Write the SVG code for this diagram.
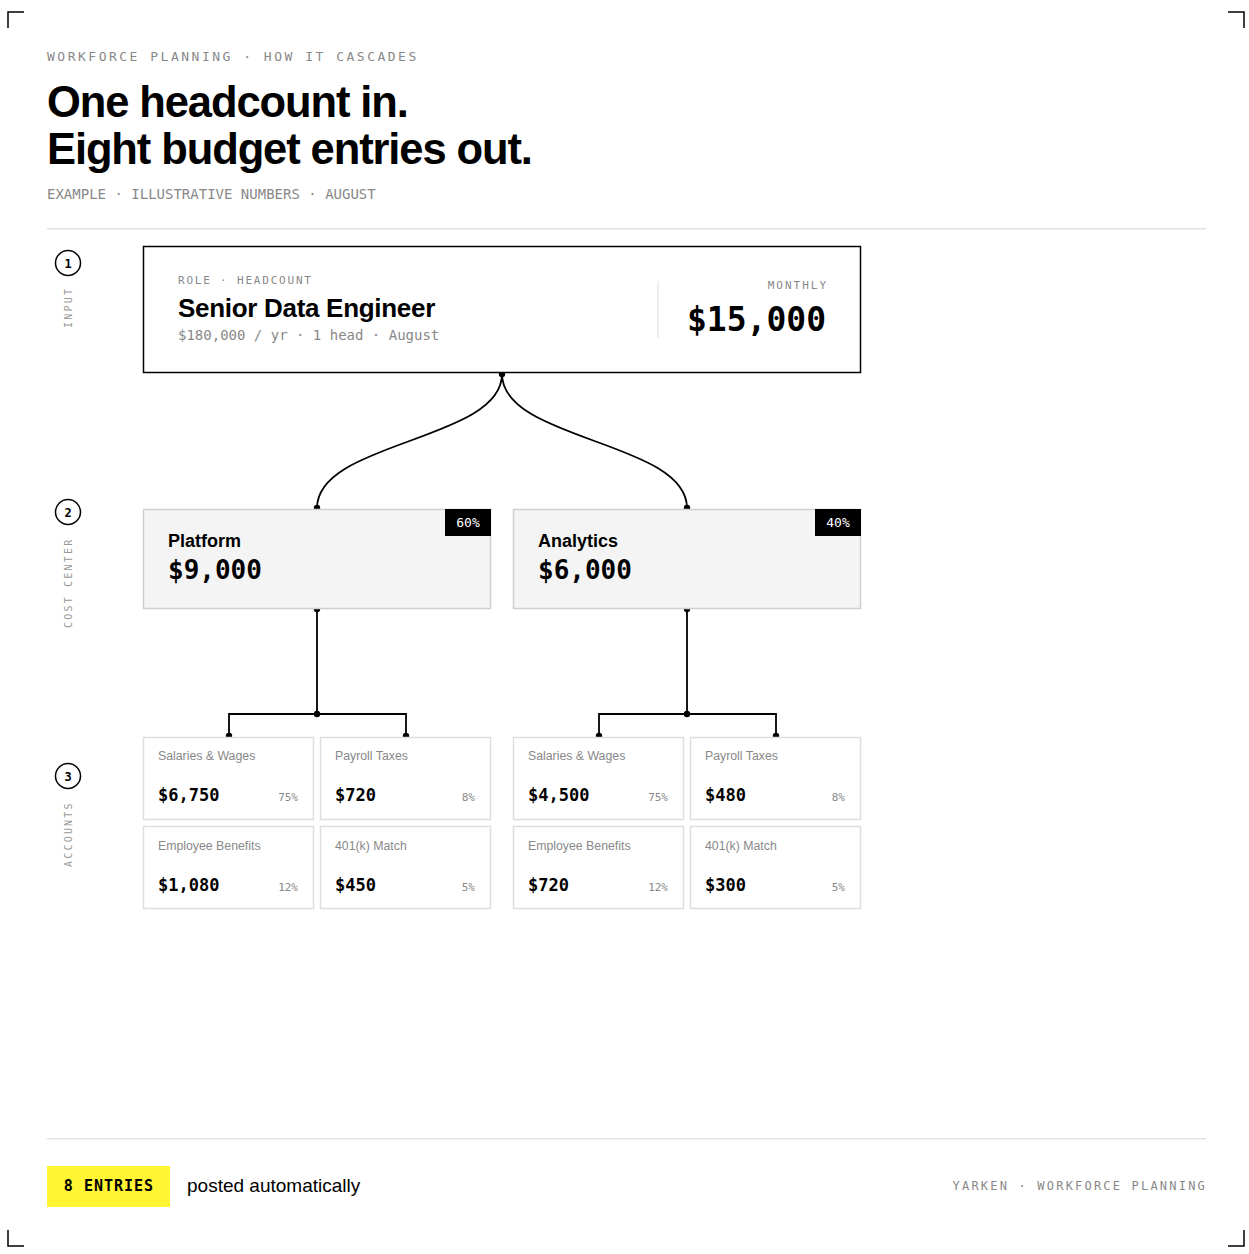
<svg xmlns="http://www.w3.org/2000/svg" width="1249" height="1254" viewBox="0 0 1249 1254">
<style>
.mono{font-family:"DejaVu Sans Mono","Liberation Mono",monospace}
.sans{font-family:"Liberation Sans",Arial,sans-serif}
.eyebrow{font-size:13px;letter-spacing:2.5px;fill:#888}
.title{font-size:43.5px;font-weight:bold;letter-spacing:-1.1px;fill:#000}
.sub{font-size:14px;fill:#888}
.step{fill:#fff;stroke:#000;stroke-width:1.5}
.stepnum{font-size:12px;font-weight:bold;fill:#000;text-anchor:middle}
.steplbl{font-size:10px;letter-spacing:2.2px;fill:#999}
.cc{fill:#f4f4f4;stroke:#cfcfcf;stroke-width:1.5}
.ccname{font-size:18px;font-weight:bold;fill:#000}
.ccamt{font-size:26px;font-weight:bold;fill:#000}
.badge{fill:#000}
.badgetxt{font-size:13px;fill:#fff;text-anchor:middle}
.acct{fill:#fff;stroke:#dedede;stroke-width:1.5}
.albl{font-size:12.3px;fill:#888}
.aamt{font-size:17px;font-weight:bold;fill:#000}
.apct{font-size:11px;fill:#888;text-anchor:end}
.conn{fill:none;stroke:#000;stroke-width:1.8}
.dot{fill:#000}
.corner{fill:none;stroke:#000;stroke-width:1.5}
</style>

<g id="corners">
<path class="corner" d="M8,28 V12 H24"/>
<path class="corner" d="M1228,12 H1244 V28"/>
<path class="corner" d="M8,1230 V1246 H24"/>
<path class="corner" d="M1228,1246 H1244 V1230"/>
</g>

<g id="header">
<text class="mono eyebrow" x="47" y="61">WORKFORCE PLANNING · HOW IT CASCADES</text>
<text class="sans title" x="47" y="117">One headcount in.</text>
<text class="sans title" x="47" y="164">Eight budget entries out.</text>
<text class="mono sub" x="47" y="199">EXAMPLE · ILLUSTRATIVE NUMBERS · AUGUST</text>
<rect x="47" y="228" width="1159" height="1.5" fill="#e2e2e2"/>
</g>

<g id="steps">
<g id="step1">
<circle class="step" cx="68" cy="263" r="12.5"/>
<text class="mono stepnum" x="68" y="267.5">1</text>
<text class="mono steplbl" transform="translate(72,328) rotate(-90)">INPUT</text>
</g>
<g id="step2">
<circle class="step" cx="68" cy="512" r="12.5"/>
<text class="mono stepnum" x="68" y="516.5">2</text>
<text class="mono steplbl" transform="translate(72,628) rotate(-90)">COST CENTER</text>
</g>
<g id="step3">
<circle class="step" cx="68" cy="776" r="12.5"/>
<text class="mono stepnum" x="68" y="780.5">3</text>
<text class="mono steplbl" transform="translate(72,867) rotate(-90)">ACCOUNTS</text>
</g>
</g>

<g id="connectors">
<path class="conn" d="M502,374 C502,441 317,441 317,508"/>
<path class="conn" d="M502,374 C502,441 687,441 687,508"/>
<path class="conn" d="M317,609 V714 M229,736 V714 H406 V736"/>
<path class="conn" d="M687,609 V714 M599,736 V714 H776 V736"/>
<circle class="dot" cx="502" cy="374" r="3.2"/>
<circle class="dot" cx="317" cy="508" r="3.2"/>
<circle class="dot" cx="687" cy="508" r="3.2"/>
<circle class="dot" cx="317" cy="609" r="3.2"/>
<circle class="dot" cx="687" cy="609" r="3.2"/>
<circle class="dot" cx="317" cy="714" r="3.2"/>
<circle class="dot" cx="687" cy="714" r="3.2"/>
<circle class="dot" cx="229" cy="736" r="3.2"/>
<circle class="dot" cx="406" cy="736" r="3.2"/>
<circle class="dot" cx="599" cy="736" r="3.2"/>
<circle class="dot" cx="776" cy="736" r="3.2"/>
</g>

<g id="input-role">
<rect x="143.5" y="246.5" width="717" height="126" fill="#fff" stroke="#000" stroke-width="1.5"/>
<text class="mono" x="178" y="284" font-size="11" letter-spacing="1.8" fill="#888">ROLE · HEADCOUNT</text>
<text class="sans" x="178" y="317" font-size="26" font-weight="bold" letter-spacing="-0.3" fill="#000">Senior Data Engineer</text>
<text class="mono" x="178" y="340" font-size="14" fill="#888">$180,000 / yr · 1 head · August</text>
<rect x="657.5" y="281" width="1" height="57" fill="#ddd"/>
<text class="mono" x="828" y="289" font-size="11" letter-spacing="2" fill="#888" text-anchor="end">MONTHLY</text>
<text class="mono" x="826" y="331" font-size="33" font-weight="bold" fill="#000" text-anchor="end">$15,000</text>
</g>

<g id="cc-platform">
<rect class="cc" x="143.5" y="509.5" width="347" height="99"/>
<rect class="badge" x="445" y="509" width="46" height="27"/>
<text class="mono badgetxt" x="468" y="527">60%</text>
<text class="sans ccname" x="168" y="547">Platform</text>
<text class="mono ccamt" x="168" y="579">$9,000</text>
</g>

<g id="cc-analytics">
<rect class="cc" x="513.5" y="509.5" width="347" height="99"/>
<rect class="badge" x="815" y="509" width="46" height="27"/>
<text class="mono badgetxt" x="838" y="527">40%</text>
<text class="sans ccname" x="538" y="547">Analytics</text>
<text class="mono ccamt" x="538" y="579">$6,000</text>
</g>

<g id="acct-p-salaries">
<rect class="acct" x="143.5" y="737.5" width="170" height="82"/>
<text class="sans albl" x="158" y="760">Salaries &amp; Wages</text>
<text class="mono aamt" x="158" y="801">$6,750</text>
<text class="mono apct" x="298" y="801">75%</text>
</g>
<g id="acct-p-payroll">
<rect class="acct" x="320.5" y="737.5" width="170" height="82"/>
<text class="sans albl" x="335" y="760">Payroll Taxes</text>
<text class="mono aamt" x="335" y="801">$720</text>
<text class="mono apct" x="475" y="801">8%</text>
</g>
<g id="acct-p-benefits">
<rect class="acct" x="143.5" y="826.5" width="170" height="82"/>
<text class="sans albl" x="158" y="850">Employee Benefits</text>
<text class="mono aamt" x="158" y="891">$1,080</text>
<text class="mono apct" x="298" y="891">12%</text>
</g>
<g id="acct-p-401k">
<rect class="acct" x="320.5" y="826.5" width="170" height="82"/>
<text class="sans albl" x="335" y="850">401(k) Match</text>
<text class="mono aamt" x="335" y="891">$450</text>
<text class="mono apct" x="475" y="891">5%</text>
</g>

<g id="acct-a-salaries">
<rect class="acct" x="513.5" y="737.5" width="170" height="82"/>
<text class="sans albl" x="528" y="760">Salaries &amp; Wages</text>
<text class="mono aamt" x="528" y="801">$4,500</text>
<text class="mono apct" x="668" y="801">75%</text>
</g>
<g id="acct-a-payroll">
<rect class="acct" x="690.5" y="737.5" width="170" height="82"/>
<text class="sans albl" x="705" y="760">Payroll Taxes</text>
<text class="mono aamt" x="705" y="801">$480</text>
<text class="mono apct" x="845" y="801">8%</text>
</g>
<g id="acct-a-benefits">
<rect class="acct" x="513.5" y="826.5" width="170" height="82"/>
<text class="sans albl" x="528" y="850">Employee Benefits</text>
<text class="mono aamt" x="528" y="891">$720</text>
<text class="mono apct" x="668" y="891">12%</text>
</g>
<g id="acct-a-401k">
<rect class="acct" x="690.5" y="826.5" width="170" height="82"/>
<text class="sans albl" x="705" y="850">401(k) Match</text>
<text class="mono aamt" x="705" y="891">$300</text>
<text class="mono apct" x="845" y="891">5%</text>
</g>

<g id="footer">
<rect x="47" y="1138" width="1159" height="1.5" fill="#e2e2e2"/>
<rect x="47" y="1166" width="123" height="41" fill="#fff533"/>
<text class="mono" x="109" y="1191" font-size="15" font-weight="bold" letter-spacing="1" fill="#000" text-anchor="middle">8 ENTRIES</text>
<text class="sans" x="187" y="1192" font-size="19" fill="#000">posted automatically</text>
<text class="mono" x="1207" y="1190" font-size="12" letter-spacing="2.2" fill="#888" text-anchor="end">YARKEN · WORKFORCE PLANNING</text>
</g>
</svg>
